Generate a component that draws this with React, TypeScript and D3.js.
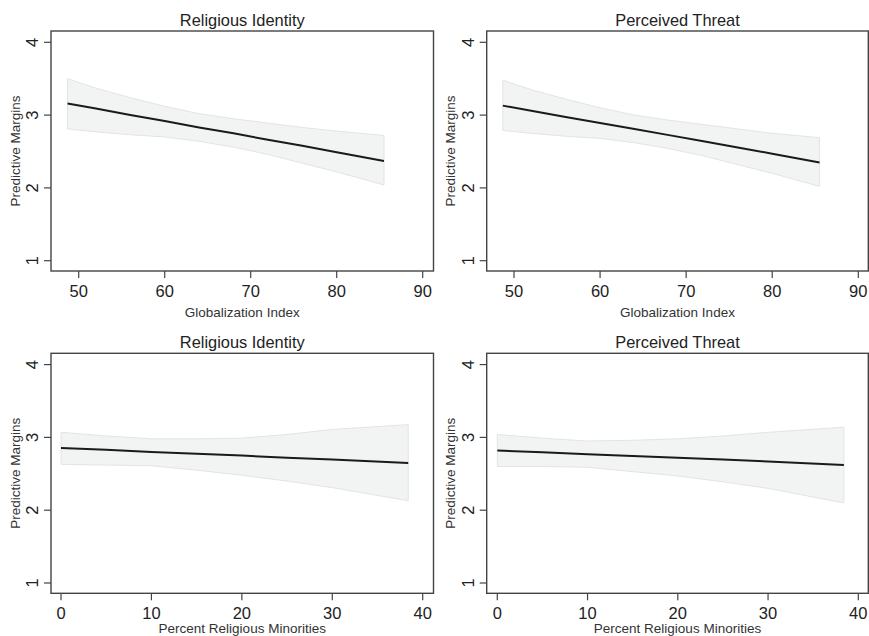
import React from "react";
import * as d3 from "d3";

// ---- Data ----
const globX = [48.7, 52, 56, 60, 64, 68, 72, 76, 80, 85.5];
const riGlobMean = [3.16, 3.09, 3.0, 2.92, 2.83, 2.75, 2.66, 2.58, 2.49, 2.37];
const riGlobUpper = [3.5, 3.37, 3.24, 3.12, 3.02, 2.95, 2.89, 2.83, 2.78, 2.72];
const riGlobLower = [2.81, 2.77, 2.73, 2.7, 2.64, 2.56, 2.46, 2.34, 2.22, 2.04];

const ptGlobMean = [3.13, 3.06, 2.975, 2.89, 2.81, 2.725, 2.64, 2.555, 2.47, 2.35];
const ptGlobUpper = [3.48, 3.35, 3.22, 3.1, 3.0, 2.93, 2.87, 2.81, 2.75, 2.69];
const ptGlobLower = [2.79, 2.75, 2.71, 2.68, 2.62, 2.54, 2.44, 2.32, 2.2, 2.02];

const minX = [0, 5, 10, 15, 20, 25, 30, 38.4];
const riMinMean = [2.855, 2.83, 2.8, 2.775, 2.75, 2.72, 2.695, 2.65];
const riMinUpper = [3.07, 3.02, 2.98, 2.98, 2.99, 3.04, 3.11, 3.175];
const riMinLower = [2.63, 2.62, 2.61, 2.55, 2.48, 2.4, 2.31, 2.13];

const ptMinMean = [2.82, 2.795, 2.77, 2.745, 2.72, 2.695, 2.67, 2.62];
const ptMinUpper = [3.04, 2.99, 2.95, 2.96, 2.98, 3.02, 3.07, 3.14];
const ptMinLower = [2.6, 2.6, 2.59, 2.53, 2.47, 2.39, 2.3, 2.1];

const globTicks = [50, 60, 70, 80, 90];
const minTicks = [0, 10, 20, 30, 40];
const yTicks = [1, 2, 3, 4];

const FONT = "'Liberation Sans', Arial, Helvetica, sans-serif";

type PanelProps = {
  left: number;
  top: number;
  width: number;
  height: number;
  title: string;
  xLabel: string;
  xs: number[];
  mean: number[];
  upper: number[];
  lower: number[];
  xTicks: number[];
  xDomainTicks: [number, number, number, number];
  tickLabelDy: number;
  xLabelDy: number;
};

function Panel(p: PanelProps) {
  const x = d3
    .scaleLinear()
    .domain([p.xDomainTicks[0], p.xDomainTicks[2]])
    .range([p.xDomainTicks[1], p.xDomainTicks[3]]);
  const y = d3.scaleLinear().domain([1, 4]).range([229.7, 11.3]);
  const idx = p.xs.map((_, i) => i);
  const area = d3
    .area<number>()
    .x((i) => x(p.xs[i]))
    .y0((i) => y(p.lower[i]))
    .y1((i) => y(p.upper[i]));
  const line = d3
    .line<number>()
    .x((i) => x(p.xs[i]))
    .y((i) => y(p.mean[i]));
  const cx = p.width / 2;
  return (
    <g transform={`translate(${p.left},${p.top})`} fontFamily={FONT}>
      <path d={area(idx) || ""} fill="#f2f3f3" stroke="#e3e4e4" strokeWidth={1} />
      <path d={line(idx) || ""} fill="none" stroke="#1a1a1a" strokeWidth={2} />
      <rect x={0} y={0} width={p.width} height={p.height} fill="none" stroke="#444" strokeWidth={1.4} />
      {yTicks.map((t) => (
        <g key={"y" + t}>
          <line x1={-7} x2={0} y1={y(t)} y2={y(t)} stroke="#444" strokeWidth={1.2} />
          <text
            transform={`translate(${-18.5},${y(t)}) rotate(-90)`}
            textAnchor="middle"
            dy="0.35em"
            fontSize={16.5}
            fill="#222"
          >
            {t}
          </text>
        </g>
      ))}
      {p.xTicks.map((t) => (
        <g key={"x" + t}>
          <line x1={x(t)} x2={x(t)} y1={p.height} y2={p.height + 7} stroke="#444" strokeWidth={1.2} />
          <text x={x(t)} y={p.height + p.tickLabelDy} textAnchor="middle" dy="0.35em" fontSize={16.5} fill="#222">
            {t}
          </text>
        </g>
      ))}
      <text x={cx} y={-11} textAnchor="middle" dy="0.35em" fontSize={16.4} fill="#222">
        {p.title}
      </text>
      <text x={cx} y={p.height + p.xLabelDy} textAnchor="middle" dy="0.35em" fontSize={13.5} fill="#333">
        {p.xLabel}
      </text>
      <text
        transform={`translate(${-36},${p.height / 2}) rotate(-90)`}
        textAnchor="middle"
        dy="0.35em"
        fontSize={13.5}
        fill="#333"
      >
        Predictive Margins
      </text>
    </g>
  );
}

export default function App() {
  const W = 869;
  const H = 636;
  const topY = 31;
  const botY = 353.3;
  const ph = 240;
  const lx = 51;
  const rx = 486.7;
  const lw = 382.5;
  const rw = 381.6;
  return (
    <svg
      width={W}
      height={H}
      style={{ position: "absolute", left: 0, top: 0, background: "#fff" }}
    >
      <rect width={W} height={H} fill="#fff" />
      <Panel
        left={lx}
        top={topY}
        width={lw}
        height={ph}
        title="Religious Identity"
        xLabel="Globalization Index"
        xs={globX}
        mean={riGlobMean}
        upper={riGlobUpper}
        lower={riGlobLower}
        xTicks={globTicks}
        xDomainTicks={[50, 78.7 - lx, 90, 422.7 - lx]}
        tickLabelDy={20.7}
        xLabelDy={41}
      />
      <Panel
        left={rx}
        top={topY}
        width={rw}
        height={ph}
        title="Perceived Threat"
        xLabel="Globalization Index"
        xs={globX}
        mean={ptGlobMean}
        upper={ptGlobUpper}
        lower={ptGlobLower}
        xTicks={globTicks}
        xDomainTicks={[50, 514 - rx, 90, 858.3 - rx]}
        tickLabelDy={20.7}
        xLabelDy={41}
      />
      <Panel
        left={lx}
        top={botY}
        width={lw}
        height={ph}
        title="Religious Identity"
        xLabel="Percent Religious Minorities"
        xs={minX}
        mean={riMinMean}
        upper={riMinUpper}
        lower={riMinLower}
        xTicks={minTicks}
        xDomainTicks={[0, 61 - lx, 40, 422.7 - lx]}
        tickLabelDy={19.7}
        xLabelDy={34.7}
      />
      <Panel
        left={rx}
        top={botY}
        width={rw}
        height={ph}
        title="Perceived Threat"
        xLabel="Percent Religious Minorities"
        xs={minX}
        mean={ptMinMean}
        upper={ptMinUpper}
        lower={ptMinLower}
        xTicks={minTicks}
        xDomainTicks={[0, 497.3 - rx, 40, 858.3 - rx]}
        tickLabelDy={19.7}
        xLabelDy={34.7}
      />
    </svg>
  );
}
